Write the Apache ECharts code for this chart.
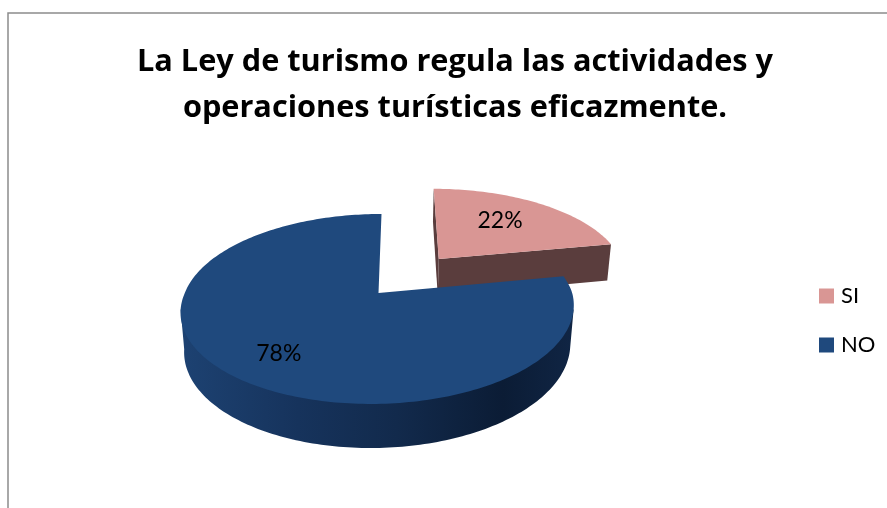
<!DOCTYPE html>
<html><head><meta charset="utf-8">
<style>html,body{margin:0;padding:0;background:#fff}#c{width:887px;height:508px}</style>
<script src="https://cdn.jsdelivr.net/npm/echarts@6/dist/echarts.min.js"></script>
</head><body><div id="c"></div>
<script>
const categories = ['SI', 'NO'];
const values = [22, 78];
const faceColors = ['#d99694', '#1f497d'];
const titleLines = ['La Ley de turismo regula las actividades y', 'operaciones turísticas eficazmente.'];

const chart = echarts.init(document.getElementById('c'), null, {renderer: 'canvas'});
const total = values.reduce((a, b) => a + b, 0);
const FONT = 'Lato, "Open Sans", sans-serif';
const TITLE_FONT = '"Open Sans", Lato, sans-serif';

// view of the tilted disc
const view = {cx: 378.5, cy: 293, rx: 193.7, ry: 92.3, k: 0.168, depth: 39.5, shrink: 0.018, explode: 0.51};
const DEG = Math.PI / 180;
function project(u, v, h) {
  const w = 1 - view.k * v + view.shrink * h;
  const skew = v > 0 ? -8 * v : -3 * v;
  return [view.cx + view.rx * u / w + skew, view.cy + (view.ry * v + view.depth * h) / w];
}
function rimPoint(a, ou, ov, h) {
  return project(ou + Math.sin(a), ov - Math.cos(a), h);
}
function arc(a0, a1, ou, ov, h) {
  const pts = [], n = Math.max(8, Math.ceil((a1 - a0) / 0.02));
  for (let i = 0; i <= n; i++) {
    pts.push(rimPoint(a0 + (a1 - a0) * i / n, ou, ov, h));
  }
  return pts;
}
function slice(i) {
  const start = values.slice(0, i).reduce((a, b) => a + b, 0) / total * 2 * Math.PI;
  const end = start + values[i] / total * 2 * Math.PI;
  const mid = (start + end) / 2;
  const exploded = i === 0;
  const ou = exploded ? Math.sin(mid) * view.explode : 0;
  const ov = exploded ? -Math.cos(mid) * view.explode : 0;
  return {start, end, mid, ou, ov, exploded};
}
function renderSlice(params) {
  const i = params.seriesIndex;
  const s = slice(i);
  const children = [];
  const top = arc(s.start, s.end, s.ou, s.ov, 0);
  const apexT = project(s.ou, s.ov, 0), apexB = project(s.ou, s.ov, 1);
  if (s.exploded) {
    const p0 = top[0], p1 = top[top.length - 1];
    const b0 = rimPoint(s.start, s.ou, s.ov, 1);
    const b1 = rimPoint(s.end, s.ou, s.ov, 1);
    children.push({type: 'polygon', shape: {points: [apexT, p0, b0, apexB]}, style: {fill: '#5a3d3d'}});
    children.push({type: 'polygon', shape: {points: [apexT, p1, b1, apexB]}, style: {fill: '#5a3d3d'}});
  } else {
    const a0 = Math.max(s.start, 100 * DEG), a1 = Math.min(s.end, 260 * DEG);
    const wall = [rimPoint(a0, s.ou, s.ov, 0)].concat(arc(a0, a1, s.ou, s.ov, 1), [rimPoint(a1, s.ou, s.ov, 0)]);
    children.push({type: 'polygon', shape: {points: wall}, style: {
      fill: new echarts.graphic.LinearGradient(0, 0, 1, 0, [
        {offset: 0, color: '#1d4272'}, {offset: 0.3, color: '#16335c'},
        {offset: 0.55, color: '#122a4c'}, {offset: 0.82, color: '#0b1c35'}, {offset: 1, color: '#102544'}
      ])
    }});
  }
  children.push({type: 'polygon', shape: {points: [apexT].concat(top)}, style: {fill: faceColors[i]}});
  const r = s.exploded ? 0.64 : 0.74;
  const la = s.mid - 3 * DEG;
  const lp = project(s.ou + Math.sin(la) * r, s.ov - Math.cos(la) * r, 0);
  children.push({type: 'text', x: lp[0], y: lp[1], style: {
    text: Math.round(values[i] / total * 100) + '%', fill: '#000', font: '23px ' + FONT,
    align: 'center', verticalAlign: 'middle'
  }});
  return {type: 'group', children};
}

chart.setOption({
  animation: false,
  backgroundColor: '#fff',
  title: {
    text: titleLines.join('\n'), left: 450, top: 34, textAlign: 'center',
    textStyle: {fontFamily: TITLE_FONT, fontWeight: 'bold', fontSize: 30.7, lineHeight: 46, color: '#000'}
  },
  legend: {
    orient: 'vertical', left: 819, top: 285, padding: 0, itemWidth: 15, itemHeight: 15, itemGap: 27,
    icon: 'rect', data: categories,
    textStyle: {fontFamily: FONT, fontSize: 22, color: '#000', padding: [0, 0, 0, 2]}
  },
  graphic: [{type: 'polyline', z: -1, shape: {points: [[8, 508], [8, 13], [887, 13]]},
    style: {stroke: '#8c8c8c', lineWidth: 1.5, fill: null}}],
  series: categories.map((name, i) => ({
    type: 'custom', name, coordinateSystem: 'none', z: i + 1,
    itemStyle: {color: faceColors[i]}, data: [values[i]], renderItem: renderSlice
  }))
});
</script></body></html>
